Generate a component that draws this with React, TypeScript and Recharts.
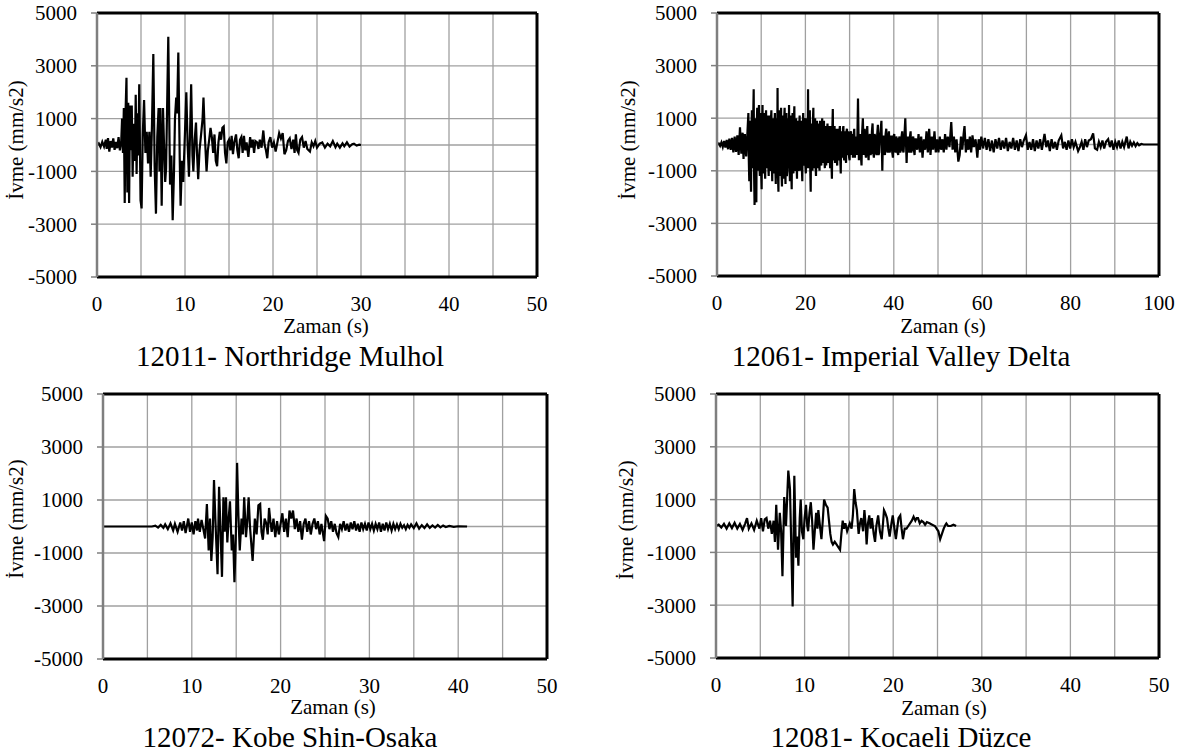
import React from 'react';
import { LineChart, Line, XAxis, YAxis, CartesianGrid, ReferenceLine } from 'recharts';

const FONT = "'Liberation Serif', 'DejaVu Serif', 'Noto Serif', 'Times New Roman', Times, serif";

// ---- axis ticks / labels ----
const yTicks = [-5000, -3000, -1000, 0, 1000, 3000, 5000];
const xTicks50 = [0, 5, 10, 15, 20, 25, 30, 35, 40, 45, 50];
const xTicks100 = [0, 10, 20, 30, 40, 50, 60, 70, 80, 90, 100];
const titles = ['12011- Northridge Mulhol', '12061- Imperial Valley Delta', '12072- Kobe Shin-Osaka', '12081- Kocaeli Düzce'];
const xAxisTitle = 'Zaman (s)';
const yAxisTitle = 'İvme (mm/s2)';

// ---- records: [time (s), acceleration (mm/s2)] ----
const northridge: [number, number][] = [
  [0, 0], [0.2, 60], [0.4, -80], [0.6, 120], [0.8, -60], [1.0, 200], [1.1, -150], [1.25, 260], [1.4, -250], [1.55, 150], [1.7, -100], [1.85, 250], [2.0, -180], [2.15, 120], [2.3, -120], [2.45, 300], [2.6, -200], [2.75, 100],
  [2.85, 1000], [2.95, -300], [3.05, 1400], [3.15, -2200], [3.25, 1300], [3.35, 2550], [3.45, -1800], [3.55, 1600], [3.65, -2200], [3.75, 1500], [3.85, -200], [3.95, 1500], [4.05, -1200], [4.15, 800], [4.3, -600], [4.4, 1900], [4.5, -1100], [4.6, 1200], [4.7, -400], [4.8, 2300], [4.95, -2100], [5.07, -2400], [5.2, 400], [5.35, 1700], [5.5, -300], [5.65, 500], [5.8, -700], [5.95, 500], [6.1, -1200], [6.25, 800], [6.4, 3450], [6.55, -800], [6.7, -2600], [6.85, 300], [7.0, 1400], [7.1, -1000], [7.2, 1400], [7.35, -2300], [7.5, 1400], [7.6, 200], [7.75, -1400], [7.85, -900], [8.1, 4100], [8.3, -1500], [8.45, -400], [8.6, -2850], [8.75, -1000], [8.86, 1000], [9.0, 1800], [9.1, 1200], [9.24, 3500], [9.4, -500], [9.5, -2300], [9.65, -600], [9.8, -1400], [10.0, 500], [10.15, 2000], [10.3, 0], [10.45, -1200], [10.6, 800], [10.7, 2300], [10.85, -400], [10.95, -1000], [11.1, 200], [11.25, 850], [11.35, -200], [11.5, -1300], [11.65, -200], [11.8, 300], [12.0, 1000], [12.1, 1800], [12.25, 400], [12.45, -1000], [12.6, -200], [12.75, 200], [12.9, 650], [13.05, 300], [13.2, -300], [13.35, 400], [13.5, -600], [13.65, -800], [13.8, 100], [13.95, 500], [14.1, 200], [14.25, 650], [14.4, 700], [14.55, -300], [14.7, -700], [14.85, 100],
  [15.0, 200], [15.15, -200], [15.3, 350], [15.45, -350], [15.6, 100], [15.8, 400], [15.95, -200], [16.1, -500], [16.25, 200], [16.4, 300], [16.55, -300], [16.7, 350], [16.85, -200], [17.0, 100], [17.2, -450], [17.4, 300], [17.55, -100], [17.7, 200], [17.85, -300], [18.0, 150], [18.2, 100], [18.35, -150], [18.5, 200], [18.7, -100], [18.9, 550], [19.05, 0], [19.2, -200], [19.35, -500], [19.5, 100], [19.7, 300], [19.9, -100],
  [20.1, 100], [20.3, -250], [20.5, 100], [20.7, 450], [20.9, 250], [21.1, 450], [21.3, -350], [21.5, -200], [21.7, 150], [21.9, 250], [22.1, -150], [22.3, 200], [22.45, -300], [22.6, 400], [22.75, -200], [22.9, -300], [23.1, 200], [23.3, 300], [23.5, -100], [23.7, 150], [23.9, -150], [24.2, -250], [24.4, 100], [24.6, -50], [24.8, 150], [25.0, -100], [25.3, 50], [25.6, 100], [25.9, -100], [26.2, 50], [26.5, -50], [26.8, 150], [27.1, -80], [27.3, 50], [27.6, -100], [27.9, 60], [28.1, -50], [28.4, 100], [28.7, -60], [29.0, 30], [29.2, 50], [29.5, -20], [29.8, 10], [30.0, 0],
];

const imperialValley: [number, number][] = [
  [0, 0], [0.4, 40], [0.7, -50], [1.0, 80], [1.3, -90], [1.6, 130], [1.9, -120], [2.2, 170], [2.5, -180], [2.8, 220], [3.1, -200], [3.4, 250], [3.7, -300], [4.0, 300], [4.3, -280], [4.6, 350], [4.9, -400], [5.2, 650], [5.5, -350], [5.8, 450], [6.0, -550], [6.3, 400], [6.6, -450], [6.9, 500],
  [7.1, 1200], [7.2, -600], [7.3, -1400], [7.4, 700], [7.5, 900], [7.6, -900], [7.7, -1800], [7.8, 600], [7.9, 1300], [8.0, -500], [8.1, -900], [8.2, 1100], [8.3, 2100], [8.4, -1200], [8.5, -2300], [8.6, 800], [8.7, 1000], [8.8, -1500], [8.9, -2200], [9.0, 700], [9.1, 1400], [9.2, -700], [9.3, -1000], [9.4, 1200], [9.5, 1500], [9.6, -800], [9.7, -1200], [9.8, 900], [9.9, 1200], [10.0, -1100], [10.1, -1700], [10.2, 600], [10.3, 1500], [10.4, -700], [10.5, -1100], [10.6, 1200], [10.7, 1000], [10.8, -900], [10.9, -1300], [11.0, 800], [11.1, 1300], [11.2, -600], [11.3, -900], [11.4, 1100], [11.5, 900], [11.6, -800], [11.7, -1200], [11.8, 700], [11.9, 1100], [12.0, -1000], [12.1, -800], [12.2, 900], [12.3, 1300], [12.4, -700], [12.5, -1400], [12.6, 800], [12.7, 1000], [12.8, -1100], [12.9, -1000], [13.0, 700], [13.1, 1200], [13.2, -900], [13.3, -1500], [13.4, 1000], [13.5, 900], [13.6, -1000], [13.7, 2150], [13.8, -1200], [13.9, -1800], [14.0, 800], [14.1, 1300], [14.2, -900], [14.3, -1200], [14.4, 1000], [14.5, 1400], [14.6, -1100], [14.7, -1600], [14.8, 900], [14.9, 1100], [15.0, -800], [15.1, -1300], [15.2, 1000], [15.3, 1400], [15.4, -900], [15.5, -1500], [15.6, 800], [15.7, 1200], [15.8, -1200], [15.9, -1000], [16.0, 700], [16.1, 1000], [16.2, -900], [16.3, 1500], [16.4, -800], [16.5, -1400], [16.6, 1100], [16.7, 800], [16.8, -1000], [16.9, -1700], [17.0, 700], [17.1, 1200], [17.2, -800], [17.3, -1100], [17.4, 900], [17.5, 1450], [17.6, -1000], [17.7, -900], [17.8, 600], [17.9, 1000], [18.0, -700], [18.1, -1300], [18.2, 800], [18.3, 900], [18.4, -1000], [18.5, -800], [18.6, 700], [18.7, 1100], [18.8, -600], [18.9, -1000], [19.0, 900], [19.1, 800], [19.2, -900], [19.3, -1400], [19.4, 600], [19.5, 1200], [19.6, -800], [19.7, -700], [19.8, 1000], [19.9, 900],
  [20.0, -800], [20.1, -1100], [20.2, 700], [20.3, 1000], [20.4, -900], [20.5, -600], [20.6, 2100], [20.7, -500], [20.8, -900], [20.9, 800], [21.0, 1300], [21.1, -1000], [21.2, -1800], [21.3, 600], [21.4, 800], [21.5, -700], [21.6, -1000], [21.7, 900], [21.8, 1400], [21.9, -900], [22.0, -700], [22.1, 600], [22.2, 1000], [22.3, -800], [22.4, -1200], [22.5, 700], [22.6, 900], [22.7, -900], [22.8, -600], [22.9, 500], [23.0, 800], [23.1, -700], [23.2, -1000], [23.3, 900], [23.4, 700], [23.5, -600], [23.6, -800], [23.7, 600], [23.8, 1000], [23.9, -700], [24.0, -600], [24.1, 500], [24.2, 900], [24.3, -500], [24.4, -900], [24.5, 700], [24.6, 600], [24.7, -800], [24.8, -500], [24.9, 500], [25.0, 800], [25.1, -600], [25.2, -700], [25.3, 700], [25.4, 600], [25.5, -500], [25.6, -900], [25.7, 500], [25.8, 700], [25.9, -700], [26.0, -1300], [26.1, 600], [26.2, 1350], [26.3, -500], [26.4, -600], [26.5, 500], [26.6, 700], [26.7, -700], [26.8, -500], [26.9, 400], [27.0, 600], [27.1, -600], [27.2, -800], [27.3, 600], [27.4, 500], [27.5, -500], [27.6, -600], [27.7, 500], [27.8, 700], [27.9, -600], [28.0, -1100], [28.1, 400], [28.2, 500], [28.3, -500], [28.4, -400], [28.5, 600], [28.6, 700], [28.7, -500], [28.8, -600], [28.9, 400], [29.0, 500], [29.1, -500], [29.2, -700], [29.3, 500], [29.4, 600], [29.5, -300], [29.6, -400], [29.7, 500], [29.8, 400], [29.9, -500],
  [30.0, -600], [30.15, 400], [30.3, 500], [30.45, -400], [30.6, 400], [30.75, -500], [30.9, 300], [31.05, 600], [31.2, -500], [31.35, 200], [31.5, 300], [31.7, -400], [31.9, 1750], [32.1, -600], [32.25, 300], [32.4, 400], [32.55, -400], [32.7, -800], [32.85, 500], [33.0, 1000], [33.2, -400], [33.3, 300], [33.4, 600], [33.55, -300], [33.7, -500], [33.85, 400], [34.0, 700], [34.15, -300], [34.3, -600], [34.45, 300], [34.6, 400], [34.75, -400], [34.9, -300],
  [35.05, 500], [35.2, 800], [35.35, -300], [35.5, -500], [35.65, 400], [35.8, 300], [35.95, -300], [36.1, -400], [36.25, 400], [36.4, 750], [36.55, -400], [36.7, -300], [36.85, 300], [37.0, 500], [37.2, 900], [37.4, -1000], [37.55, 300], [37.7, 300], [37.85, -300], [38.0, -400], [38.15, 400], [38.3, 600], [38.45, -200], [38.6, -300], [38.75, 300], [38.9, 500], [39.05, -300], [39.2, -200], [39.35, 300], [39.5, 300], [39.65, -300], [39.8, -500], [39.95, 300], [40.1, 400], [40.25, -200], [40.4, -300], [40.55, 300], [40.7, 200], [40.85, -300], [41.0, -400], [41.15, 200], [41.3, 300], [41.45, -300], [41.6, -200], [41.75, 300], [41.9, 500], [42.05, -200], [42.2, -300], [42.4, 300], [42.6, 1000], [42.9, -700], [43.05, 200], [43.2, 300], [43.35, -200], [43.5, -300], [43.65, 300], [43.8, 500], [43.95, -300], [44.1, -200], [44.25, 200], [44.4, 300], [44.55, -200], [44.7, -400], [44.85, 200],
  [45.0, 200], [45.3, -200], [45.6, 400], [45.9, -300], [46.2, 300], [46.5, -500], [46.8, 200], [47.1, -200], [47.4, 500], [47.7, -300], [48.0, 600], [48.3, -400], [48.6, 300], [48.9, -200], [49.2, 500], [49.5, -300], [49.8, 200], [50.1, -300], [50.4, 300], [50.7, -200], [51.0, 200], [51.3, -300], [51.6, 400], [51.9, -200], [52.2, 300], [52.6, -100], [53.0, 850], [53.3, -200], [53.6, 300], [53.9, -300], [54.2, 200], [54.6, -650], [54.9, -400], [55.2, 300], [55.5, -200], [55.8, 400], [56.0, 700], [56.3, -300], [56.6, 200], [56.9, -200], [57.2, 300], [57.5, -300], [57.8, 350], [58.1, -100], [58.5, 200], [58.9, -500], [59.2, 200], [59.5, -200], [59.8, 300],
  [60.2, -150], [60.6, 250], [61.0, -200], [61.4, 200], [61.8, -250], [62.2, 150], [62.6, -300], [63.0, 200], [63.4, -150], [63.8, 250], [64.2, -200], [64.6, 150], [65.0, -150], [65.4, 250], [65.8, -250], [66.2, 100], [66.6, -150], [67.0, 250], [67.4, -200], [67.8, 150], [68.2, -250], [68.6, 200], [69.0, -100], [69.4, 150], [69.9, 350],
  [70.3, -200], [70.7, 100], [71.1, -200], [71.5, 200], [71.9, -250], [72.3, 150], [72.7, -150], [73.1, 200], [73.5, -200], [74.1, 400], [74.5, -100], [74.9, 150], [75.3, -250], [75.7, 200], [76.1, -150], [76.5, 100], [76.9, -200], [77.3, 150], [77.9, 350], [78.3, -150], [78.7, 100], [79.1, -200], [79.5, 150], [79.9, -150],
  [80.3, 200], [80.7, -100], [81.1, 100], [81.7, -250], [82.1, -100], [82.5, 100], [82.9, -200], [83.3, 200], [83.7, -100], [84.1, 150], [84.6, 200], [85.1, 420], [85.5, -150], [86.0, -200], [86.4, 100], [86.8, -100], [87.2, 150], [87.6, -150], [88.0, 100], [88.5, 200], [88.9, -100], [89.3, 150], [89.7, -200],
  [90.1, 100], [90.5, -100], [90.9, 150], [91.3, -150], [91.7, 100], [92.1, -100], [92.7, 300], [93.1, -150], [93.5, 100], [93.9, -50], [94.3, 80], [94.7, -60], [95.1, 50], [95.5, -30], [96.0, 20], [96.5, 0], [100, 0],
];

const kobe: [number, number][] = [
  [0, 0], [5.5, 0], [5.9, 30], [6.2, -40], [6.5, 60], [6.8, -50], [7.0, 80], [7.3, -100], [7.6, 120], [7.9, -150], [8.1, 100], [8.4, -200], [8.7, 150], [8.9, -150], [9.1, 200], [9.3, -250], [9.6, 300], [9.8, -200],
  [10.0, 150], [10.2, -300], [10.4, 200], [10.6, -150], [10.7, 300], [10.9, -200], [11.1, 250], [11.3, -100], [11.5, -450], [11.7, 850], [11.9, -900], [12.05, 300], [12.2, -1300], [12.35, -400], [12.5, 1750], [12.65, 300], [12.9, -1800], [13.07, 1500], [13.2, 200], [13.4, -1900], [13.56, 1100], [13.7, -200], [13.85, 1100], [14.0, -600], [14.15, 300], [14.3, 950], [14.5, -900], [14.65, -300], [14.8, -2100], [14.95, -500],
  [15.1, 2400], [15.25, 400], [15.4, -900], [15.6, 300], [15.75, -300], [15.9, 1100], [16.1, -400], [16.25, 200], [16.4, 1100], [16.55, 0], [16.85, -1300], [17.1, 300], [17.3, -300], [17.5, 800], [17.7, 850], [17.85, -200], [18.0, -500], [18.2, 300], [18.4, 100], [18.55, -300], [18.7, 700], [18.85, 200], [19.0, -200], [19.2, 300], [19.4, -400], [19.6, 200], [19.8, -300],
  [20.0, 100], [20.2, 500], [20.4, -200], [20.6, 300], [20.8, -400], [21.0, 600], [21.2, 300], [21.4, 600], [21.6, -100], [21.8, 300], [22.0, -200], [22.2, 200], [22.4, -500], [22.6, 100], [22.8, 300], [23.0, -200], [23.2, 200], [23.4, -300], [23.6, 100], [23.8, 300], [24.0, -100], [24.2, 200], [24.4, -300], [24.6, 100], [24.9, -550],
  [25.1, 400], [25.3, 300], [25.5, -100], [25.7, 200], [25.9, -200], [26.1, 100], [26.3, -250], [26.5, -400], [26.7, 100], [26.9, -100], [27.1, 200], [27.3, -150], [27.5, 100], [27.7, -200], [27.9, 150], [28.1, -100], [28.3, 200], [28.5, -150], [28.7, 100], [28.9, -200], [29.1, 150], [29.3, -100], [29.5, 100], [29.7, -150], [29.9, 150],
  [30.1, -100], [30.3, 100], [30.5, -150], [30.7, 100], [30.9, -100], [31.1, 150], [31.3, -200], [31.5, 100], [31.7, -150], [31.9, 150], [32.1, -100], [32.3, 100], [32.5, -150], [32.7, 100], [32.9, -100], [33.1, 80], [33.3, -100], [33.5, 100], [33.7, -50], [33.9, 50], [34.1, -100], [34.3, 60], [34.5, -50], [34.7, 80],
  [35.0, -60], [35.3, 120], [35.6, -80], [35.9, 50], [36.2, -60], [36.5, 80], [36.8, -50], [37.1, 40], [37.4, -40], [37.7, 60], [38.0, -30], [38.3, 40], [38.6, -20], [39.0, 20], [39.5, -10], [40.0, 10], [41.0, 0],
];

const kocaeli: [number, number][] = [
  [0, 0], [0.3, 50], [0.6, -60], [0.9, 80], [1.2, -100], [1.5, 100], [1.8, -80], [2.1, 120], [2.4, -100], [2.7, 80], [3.0, -150], [3.3, 100], [3.5, 300], [3.7, -100], [4.0, 100], [4.3, -150], [4.6, 200], [4.9, -100],
  [5.1, 300], [5.3, -200], [5.5, 250], [5.7, 300], [5.9, -100], [6.1, 200], [6.3, -300], [6.5, 200], [6.65, -600], [6.8, 800], [7.0, -900], [7.2, 500], [7.35, -200], [7.5, -1900], [7.7, 1100], [7.9, 0], [8.05, 1200], [8.16, 2100], [8.35, 1400], [8.5, -800], [8.65, -3050], [8.84, 1900], [9.03, -1200], [9.15, -400], [9.3, -1500], [9.45, 300], [9.56, 1000], [9.7, -200], [9.86, -500],
  [10.0, 300], [10.16, 800], [10.3, 0], [10.4, -200], [10.55, 500], [10.7, 900], [10.85, 200], [11.0, -900], [11.15, -200], [11.3, 500], [11.45, -100], [11.55, 600], [11.7, 100], [11.9, -500], [12.05, 200], [12.2, 1000], [12.4, 800], [12.6, 700], [12.75, 200], [12.9, -300], [13.05, -600], [13.2, -700], [13.4, -600], [13.6, -700], [13.8, -800], [14.0, -900], [14.15, -300], [14.3, 200], [14.45, -100], [14.6, 100], [14.8, -200],
  [15.1, 100], [15.3, -100], [15.45, 400], [15.6, 1400], [15.75, 900], [15.9, 600], [16.05, -100], [16.1, -300], [16.25, 100], [16.4, 300], [16.6, -200], [16.75, 600], [16.9, 0], [17.0, -700], [17.15, 100], [17.3, 400], [17.45, -100], [17.6, 300], [17.8, -300], [17.95, -600], [18.1, 0], [18.3, 400], [18.5, -200], [18.7, -500], [18.85, 100], [18.96, 600], [19.1, 500], [19.3, 300], [19.45, -100], [19.6, -400], [19.8, 100], [19.95, 400],
  [20.1, 0], [20.3, -500], [20.45, -100], [20.6, 300], [20.8, 400], [20.95, -100], [21.1, -500], [21.3, -100], [21.5, -100], [21.7, 0], [21.9, 100], [22.1, 200], [22.3, 350], [22.5, 200], [22.65, 300], [22.8, 300], [23.0, 100], [23.2, 200], [23.4, 150], [23.6, 50], [23.8, 150], [24.1, 100], [24.4, 50], [24.7, 0], [24.9, -100],
  [25.1, -200], [25.3, -500], [25.5, -300], [25.7, -100], [25.9, 50], [26.0, 100], [26.2, 0], [26.5, 0], [26.8, 50], [27.1, 0],
];

const YTick = (props: any) => {
  const { x, y, payload } = props;
  if (payload.value === 0) return <g />;
  return (
    <g>
      <line x1={x + 14} x2={x + 20} y1={y} y2={y} stroke="#7f7f7f" strokeWidth={1.5} />
      <text x={x} y={y} dy="0.355em" textAnchor="end" fontSize={21} fill="#000" style={{ fontFamily: FONT }}>
        {String(payload.value)}
      </text>
    </g>
  );
};

const XTick = (props: any) => {
  const { x, y, payload, labelStep } = props;
  if (payload.value % labelStep !== 0) return <g />;
  return (
    <text x={x} y={y} dy="0.71em" textAnchor="middle" fontSize={21} fill="#000" style={{ fontFamily: FONT }}>
      {String(payload.value)}
    </text>
  );
};

type PanelProps = {
  left: number; top: number; width: number; height: number;
  plot: { l: number; t: number; r: number; b: number };
  record: [number, number][];
  xMax: number; xTicks: number[]; labelStep: number;
};

function Panel({ left, top, width, height, plot, record, xMax, xTicks, labelStep }: PanelProps) {
  const data = record.map(([t, a]) => ({ t, a }));
  const xAxisHeight = 40;
  return (
    <div style={{ position: 'absolute', left, top, width, height }}>
      <LineChart
        width={width}
        height={height}
        data={data}
        margin={{ top: plot.t, right: width - plot.r, bottom: height - plot.b - xAxisHeight, left: 0 }}
      >
        <CartesianGrid stroke="#a0a0a0" strokeWidth={1.3} />
        <XAxis
          type="number"
          dataKey="t"
          domain={[0, xMax]}
          ticks={xTicks}
          interval={0}
          allowDataOverflow
          height={xAxisHeight}
          tickLine={false}
          tickSize={0}
          tickMargin={19}
          axisLine={{ stroke: '#000', strokeWidth: 3 }}
          tick={<XTick labelStep={labelStep} />}
        />
        <YAxis
          type="number"
          domain={[-5000, 5000]}
          ticks={yTicks}
          interval={0}
          allowDataOverflow
          width={plot.l}
          tickSize={6}
          tickMargin={14}
          tickLine={false}
          axisLine={{ stroke: '#7f7f7f', strokeWidth: 2.5 }}
          tick={<YTick />}
        />
        <Line type="linear" dataKey="a" stroke="#000" strokeWidth={2.2} dot={false} isAnimationActive={false} />
        <ReferenceLine y={5000} stroke="#000" strokeWidth={3} />
        <ReferenceLine x={xMax} stroke="#000" strokeWidth={3} />
      </LineChart>
    </div>
  );
}

function CText({ x, y, size, rotate, lh, children }: { x: number; y: number; size: number; rotate?: boolean; lh?: number; children: React.ReactNode }) {
  return (
    <div
      style={{
        position: 'absolute',
        left: x,
        top: y,
        transform: `translate(-50%, -50%)${rotate ? ' rotate(-90deg)' : ''}`,
        fontFamily: FONT,
        fontSize: size,
        color: '#000',
        whiteSpace: 'nowrap',
        lineHeight: lh ?? 1.15,
      }}
    >
      {children}
    </div>
  );
}

export default function App() {
  return (
    <div style={{ position: 'absolute', left: 0, top: 0, width: 1186, height: 756, background: '#fff', overflow: 'hidden', fontFamily: FONT }}>
      <Panel left={0} top={0} width={590} height={376} plot={{ l: 97, t: 13, r: 537, b: 277 }} record={northridge} xMax={50} xTicks={xTicks50} labelStep={10} />
      <Panel left={600} top={0} width={586} height={376} plot={{ l: 117, t: 13, r: 559, b: 276 }} record={imperialValley} xMax={100} xTicks={xTicks100} labelStep={20} />
      <Panel left={0} top={380} width={590} height={376} plot={{ l: 103, t: 14, r: 547, b: 279 }} record={kobe} xMax={50} xTicks={xTicks50} labelStep={10} />
      <Panel left={600} top={380} width={586} height={376} plot={{ l: 116, t: 14, r: 559, b: 278 }} record={kocaeli} xMax={50} xTicks={xTicks50} labelStep={10} />

      <CText x={16} y={140} size={21} rotate>{yAxisTitle}</CText>
      <CText x={628} y={140} size={21} rotate>{yAxisTitle}</CText>
      <CText x={16} y={519} size={21} rotate>{yAxisTitle}</CText>
      <CText x={626} y={520} size={21} rotate>{yAxisTitle}</CText>

      <CText x={326} y={327} size={21} lh={0.85}>{xAxisTitle}</CText>
      <CText x={943} y={327} size={21} lh={0.85}>{xAxisTitle}</CText>
      <CText x={333} y={708} size={21} lh={0.85}>{xAxisTitle}</CText>
      <CText x={944} y={709} size={21} lh={0.85}>{xAxisTitle}</CText>

      <CText x={290} y={357} size={29}>{titles[0]}</CText>
      <CText x={901} y={357} size={29}>{titles[1]}</CText>
      <CText x={290} y={738} size={29}>{titles[2]}</CText>
      <CText x={901} y={738} size={29}>{titles[3]}</CText>
    </div>
  );
}
